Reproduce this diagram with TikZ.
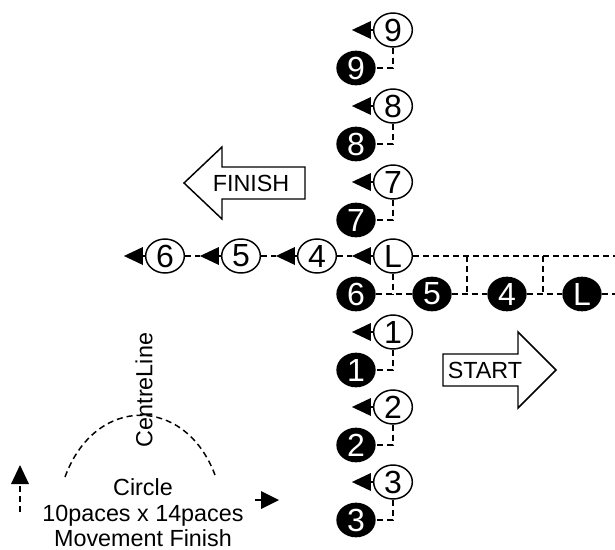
\documentclass[tikz,border=0pt]{standalone}
\usepackage{fontspec}
\setmainfont{Liberation Sans}
\usetikzlibrary{shapes.geometric}
\begin{document}
\begin{tikzpicture}[x=0.75pt,y=-0.75pt,
  every node/.style={font=\fontsize{17.5pt}{19.2pt}\selectfont},
  cfont/.style={font=\fontsize{24pt}{26pt}\selectfont},
  wc/.style={ellipse,draw,line width=1.1pt,minimum width=29pt,minimum height=25.5pt,inner sep=0pt,fill=white,cfont},
  bc/.style={ellipse,fill=black,text=white,minimum width=29.5pt,minimum height=26pt,inner sep=0pt,cfont},
  dl/.style={line width=1.1pt,dash pattern=on 4.5pt off 3pt},
  bigarrow/.style={line width=1.1pt,fill=white,line join=miter},
]
\useasboundingbox (0,0) rectangle (615,550);

% vertical column: white circles
\node[wc] (w9) at (393,30) {9};
\node[wc] (w8) at (393,106) {8};
\node[wc] (w7) at (393,182) {7};
\node[wc] (wL) at (393,256) {L};
\node[wc] (w1) at (393,332) {1};
\node[wc] (w2) at (393,407) {2};
\node[wc] (w3) at (393,482) {3};
% horizontal row: white circles
\node[wc] (w4) at (317,256) {4};
\node[wc] (w5) at (241,256) {5};
\node[wc] (w6) at (165,256) {6};

% black circles
\node[bc] (b9) at (356,68) {9};
\node[bc] (b8) at (356,144) {8};
\node[bc] (b7) at (356,220) {7};
\node[bc] (b6) at (356,294) {6};
\node[bc] (b1) at (356,370) {1};
\node[bc] (b2) at (356,445) {2};
\node[bc] (b3) at (356,520) {3};
\node[bc] (b5) at (432,294) {5};
\node[bc] (b4) at (507,294) {4};
\node[bc] (bL) at (582,294) {L};

% left-pointing heads beside white circles
\foreach \n in {9,8,7,L,1,2,3,4,5,6}{
  \draw[line width=1.1pt] (w\n.west) -- ++(-3,0);
  \fill (w\n.west) ++(-2,-9) -- ++(0,18) -- ++(-19,-9) -- cycle;
  \coordinate (t\n) at ([xshift=-21*0.75pt]w\n.west);
}

% white to black connectors
\foreach \n in {9,8,7,1,2,3}{
  \draw[dl] (w\n.south) |- (b\n.east);
}
\draw[dl] (wL.south) -- (wL.south |- b6.east);

% horizontal row of white circles
\draw[dl] (w6.east) -- (t5);
\draw[dl] (w5.east) -- (t4);
\draw[dl] (w4.east) -- (tL);
\coordinate (eTop) at (615,256);
\draw[dl] (wL.east) -- (eTop);

% black row
\draw[dl] (b6.east) -- (b5.west);
\draw[dl] (b5.east) -- (b4.west);
\draw[dl] (b4.east) -- (bL.west);
\coordinate (eBot) at (615,294);
\draw[dl] (bL.east) -- (eBot);
\coordinate (v1t) at (467,256);
\coordinate (v1b) at (467,294);
\coordinate (v2t) at (543,256);
\coordinate (v2b) at (543,294);
\draw[dl] (v1t) -- (v1b);
\draw[dl] (v2t) -- (v2b);

% FINISH arrow
\draw[bigarrow] (305,167) -- (222,167) -- (222,147) -- (184,183) -- (222,219) -- (222,199) -- (305,199) -- cycle;
\node (fin) at (251,183) {FINISH};

% START arrow
\draw[bigarrow] (443,354) -- (518,354) -- (518,332) -- (556,370) -- (518,408) -- (518,386) -- (443,386) -- cycle;
\node (start) at (485,370) {START};

% bottom-left annotation
\draw[dl] (65,477) .. controls (95,395) and (185,395) .. (215,475);
\node[rotate=90] (cl) at (144,390) {CentreLine};
\node[align=center] (circ) at (143,513) {Circle\\10paces x 14paces\\Movement Finish};
\coordinate (ua0) at (20,512);
\coordinate (ua1) at (20,483);
\draw[dl] (ua0) -- (ua1);
\fill (ua1) ++(-9,1) -- ++(18,0) -- ++(-9,-19) -- cycle;
\coordinate (ra0) at (255,500);
\coordinate (ra1) at (262,500);
\draw[line width=1.1pt] (ra0) -- (ra1);
\fill (ra1) ++(-1,-9) -- ++(0,18) -- ++(18,-9) -- cycle;
\end{tikzpicture}
\end{document}
